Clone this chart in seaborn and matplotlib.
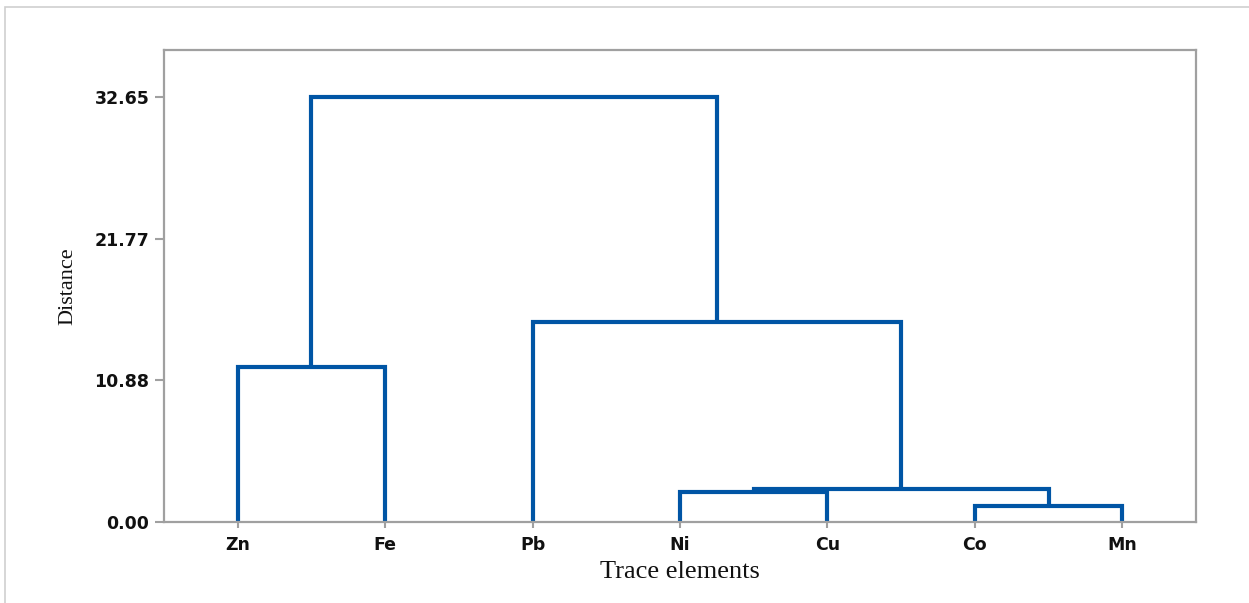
#!/usr/bin/env python3
"""Dendrogram of trace elements (distance linkage)."""
import matplotlib

matplotlib.use("Agg")
import matplotlib.pyplot as plt
import pandas as pd
import seaborn as sns
from matplotlib.patches import Rectangle

# leaves in display order
elements = ["Zn", "Fe", "Pb", "Ni", "Cu", "Co", "Mn"]
# merges: (child a, child b, distance); ids >= 7 are earlier merges
merge_a = [5, 3, 8, 0, 2, 10]
merge_b = [6, 4, 7, 1, 9, 11]
merge_dist = [1.2, 2.3, 2.5, 11.9, 15.35, 32.65]
y_ticks = [0.00, 10.88, 21.77, 32.65]

LINE_COLOR = "#0055a5"
FRAME_COLOR = "#a0a0a0"

sns.set_theme(style="white")
plt.rcParams["font.family"] = ["DejaVu Sans"]


def build_links():
    n = len(elements)
    pos = {i: float(i + 1) for i in range(n)}
    height = {i: 0.0 for i in range(n)}
    rows = []
    for k, (a, b, d) in enumerate(zip(merge_a, merge_b, merge_dist)):
        xs = [pos[a], pos[a], pos[b], pos[b]]
        ys = [height[a], d, d, height[b]]
        for j, (x, y) in enumerate(zip(xs, ys)):
            rows.append({"link": k, "order": j, "x": x, "y": y})
        node = n + k
        pos[node] = (pos[a] + pos[b]) / 2
        height[node] = d
    return pd.DataFrame(rows)


def main():
    links = build_links()

    fig = plt.figure(figsize=(12.49, 6.03), dpi=100)
    fig.patches.append(
        Rectangle((5 / 1249, -0.05), 1.1, 1.05 - 7 / 603,
                  transform=fig.transFigure, fill=False,
                  edgecolor="#cfcfcf", lw=1.2)
    )
    ax = fig.add_axes([164 / 1249, 81 / 603, 1032 / 1249, 472 / 603])

    sns.lineplot(data=links, x="x", y="y", units="link", estimator=None,
                 sort=False, color=LINE_COLOR, lw=3, ax=ax,
                 solid_joinstyle="miter", solid_capstyle="butt")

    ax.set_xlim(0.5, 7.5)
    ax.set_ylim(0, 36.26)
    ax.set_xticks(range(1, len(elements) + 1))
    ax.set_xticklabels(elements)
    ax.set_yticks(y_ticks)
    ax.set_yticklabels([f"{v:.2f}" for v in y_ticks])

    for side in ["left", "right", "top", "bottom"]:
        ax.spines[side].set_visible(True)
        ax.spines[side].set_color(FRAME_COLOR)
        ax.spines[side].set_linewidth(1.6)

    ax.tick_params(axis="y", left=True, length=6.5, width=1.5,
                   color=FRAME_COLOR, pad=4, labelsize=12.5)
    ax.tick_params(axis="x", bottom=True, length=4, width=1.5,
                   color=FRAME_COLOR, pad=6, labelsize=12.5)
    for lab in ax.get_xticklabels() + ax.get_yticklabels():
        lab.set_fontweight("bold")
        lab.set_color("#111111")

    ax.set_xlabel("Trace elements", family="Liberation Serif", fontsize=19,
                  color="#111111")
    ax.set_ylabel("Distance", family="Liberation Serif", fontsize=16,
                  color="#111111")
    ax.xaxis.set_label_coords(0.5, -0.082)
    ax.yaxis.set_label_coords(-0.084, 0.5)

    fig.savefig("out.png", dpi=100)
    plt.close(fig)


if __name__ == "__main__":
    main()
